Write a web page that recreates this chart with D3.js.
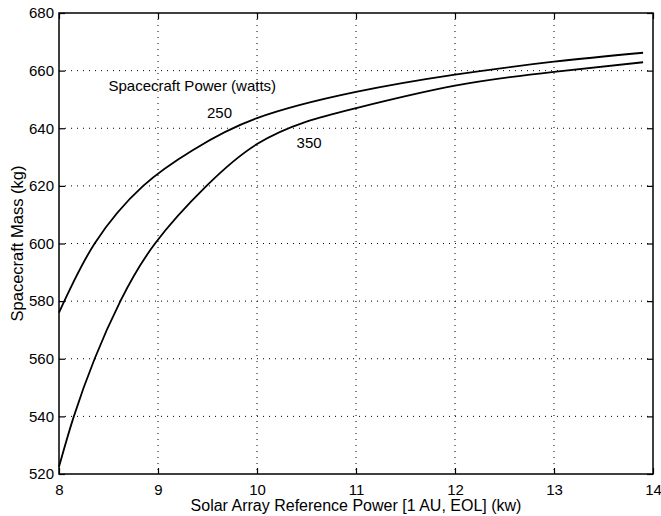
<!DOCTYPE html>
<html>
<head>
<meta charset="utf-8">
<script src="https://cdn.jsdelivr.net/npm/d3@7"></script>
<style>
 body { margin: 0; background: #fff; }
 svg { font-family: "Liberation Sans", Arial, Helvetica, sans-serif; }
</style>
</head>
<body>
<div id="chart"></div>
<script>
'use strict'
// Spacecraft mass vs solar array reference power, two spacecraft power levels

// 250 W curve: power (kw) and mass (kg)
const power250 = [8, 8.36, 8.85, 9.35, 10, 11, 12, 13, 13.9];
const mass250 = [576, 600, 620, 632.4, 643.5, 652.6, 658.6, 663.1, 666.2];
// 350 W curve
const power350 = [8, 8.15, 8.36, 8.62, 8.97, 9.49, 10, 10.5, 11, 12, 13, 13.9];
const mass350 = [522.5, 540, 560, 580, 600, 620, 634.5, 642.3, 647, 654.8, 659.6, 662.9];

const xTicks = [8, 9, 10, 11, 12, 13, 14];
const yTicks = [520, 540, 560, 580, 600, 620, 640, 660, 680];

const width = 661, height = 516;
const margin = {top: 13, right: 8, bottom: 42, left: 59};
const w = width - margin.left - margin.right;
const h = height - margin.top - margin.bottom;

let svg = d3.select("#chart").append("svg")
 .attr("width", width)
 .attr("height", height);

let g = svg.append("g")
 .attr("transform", "translate(" + margin.left + "," + margin.top + ")");

let x = d3.scaleLinear().domain([8, 14]).range([0, w]);
let y = d3.scaleLinear().domain([520, 680]).range([h, 0]);

// dotted grid
g.selectAll(".vgrid").data(xTicks.slice(1, -1)).enter().append("line")
 .attr("x1", d => x(d)).attr("x2", d => x(d))
 .attr("y1", 0).attr("y2", h)
 .attr("stroke", "#000").attr("stroke-width", 1)
 .attr("stroke-dasharray", "1,5");
g.selectAll(".hgrid").data(yTicks.slice(1, -1)).enter().append("line")
 .attr("y1", d => y(d)).attr("y2", d => y(d))
 .attr("x1", 0).attr("x2", w)
 .attr("stroke", "#000").attr("stroke-width", 1)
 .attr("stroke-dasharray", "1,5");

// axes with inward ticks
let axisStyle = sel => {
 sel.select(".domain").remove();
 sel.selectAll("line").attr("stroke", "#000").attr("stroke-width", 1.2);
 sel.selectAll("text").attr("fill", "#000").attr("font-size", "15px");
};

g.append("g").attr("transform", "translate(0," + h + ")")
 .call(d3.axisBottom(x).tickValues(xTicks).tickFormat(d3.format("d")).tickSizeInner(-6).tickPadding(10))
 .call(axisStyle);
g.append("g")
 .call(d3.axisTop(x).tickValues(xTicks).tickSizeInner(-6).tickFormat(""))
 .call(axisStyle);
g.append("g")
 .call(d3.axisLeft(y).tickValues(yTicks).tickFormat(d3.format("d")).tickSizeInner(-6).tickPadding(5))
 .call(axisStyle);
g.append("g").attr("transform", "translate(" + w + ",0)")
 .call(d3.axisRight(y).tickValues(yTicks).tickSizeInner(-6).tickFormat(""))
 .call(axisStyle);

// frame
g.append("rect")
 .attr("width", w).attr("height", h)
 .attr("fill", "none").attr("stroke", "#000").attr("stroke-width", 1.5);

// curves
let line = d3.line().curve(d3.curveNatural);
[[power250, mass250], [power350, mass350]].forEach(([px, py]) => {
 g.append("path")
  .datum(px.map((p, i) => [x(p), y(py[i])]))
  .attr("d", line)
  .attr("fill", "none")
  .attr("stroke", "#000")
  .attr("stroke-width", 1.8);
});

// labels inside the plot
g.append("text").attr("x", x(8.5)).attr("y", y(652.9))
 .attr("font-size", "15px").text("Spacecraft Power (watts)");
g.append("text").attr("x", x(9.495)).attr("y", y(643.5))
 .attr("font-size", "15px").text("250");
g.append("text").attr("x", x(10.4)).attr("y", y(633.1))
 .attr("font-size", "15px").text("350");

// axis titles
svg.append("text")
 .attr("x", margin.left + w / 2).attr("y", 511)
 .attr("text-anchor", "middle").attr("font-size", "16px")
 .text("Solar Array Reference Power [1 AU, EOL] (kw)");
svg.append("text")
 .attr("transform", "translate(23," + (margin.top + h / 2) + ") rotate(-90)")
 .attr("text-anchor", "middle").attr("font-size", "16.5px")
 .text("Spacecraft Mass (kg)");
</script>
</body>
</html>
